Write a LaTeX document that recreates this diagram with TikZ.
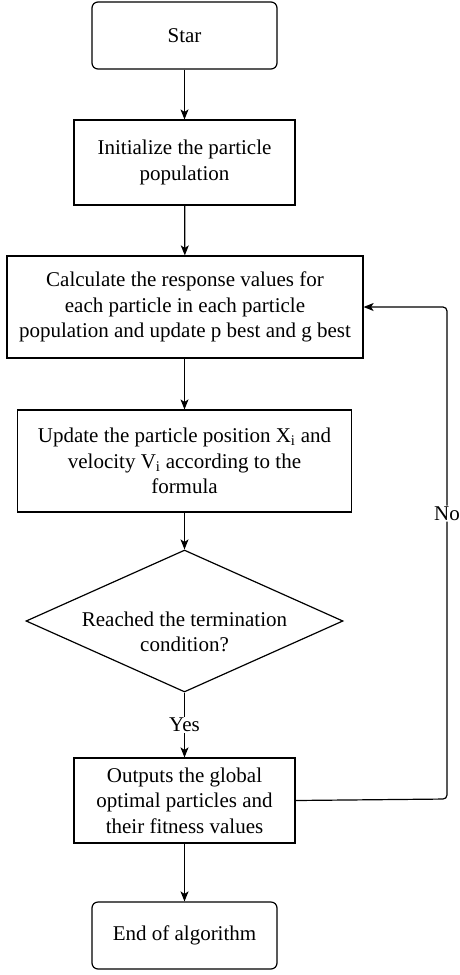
\documentclass[tikz,border=0pt]{standalone}
\usepackage{fontspec}
\setmainfont{Liberation Serif}
\usetikzlibrary{arrows.meta,shapes.geometric}
\begin{document}
\begin{tikzpicture}[x=1pt,y=-1pt,
  every node/.style={font=\fontsize{21}{25.5}\selectfont},
  base/.style={draw, line width=1.2pt, inner sep=0pt, align=center},
  procbox/.style={base, rectangle},
  termbox/.style={base, rectangle, rounded corners=6pt},
  decbox/.style={base, diamond},
  conn/.style={line width=1.2pt, -{Stealth[length=10pt,width=8pt,inset=2.5pt]}},
  lbl/.style={fill=white, inner sep=1pt}
]
\useasboundingbox (0,0) rectangle (459,975);
\node[termbox, minimum width=185pt, minimum height=67pt] (start) at (184.5,35.5) {Star};
\node[procbox, minimum width=221pt, minimum height=85pt] (init) at (184.5,162.5) {Initialize the particle\\population};
\node[procbox, minimum width=356pt, minimum height=102pt] (calc) at (185,307) {Calculate the response values for\\each particle in each particle\\population and update p best and g best};
\node[procbox, minimum width=334pt, minimum height=102pt] (upd) at (184.5,461) {Update the particle position X\textsubscript{i} and\\velocity V\textsubscript{i} according to the\\formula};
\node[decbox, minimum width=317pt, minimum height=142pt] (dec) at (184.5,621) {};
\node[align=center, inner sep=0pt] (dectext) at (184.5,632) {Reached the termination\\condition?};
\node[procbox, minimum width=221pt, minimum height=85pt] (out) at (184.5,800.5) {Outputs the global\\optimal particles and\\their fitness values};
\node[termbox, minimum width=185pt, minimum height=67pt] (end) at (184.5,935.5) {End of algorithm};
\coordinate (c1) at (447,799);
\coordinate (c2) at (447,307);
\draw[conn] (start) -- (init);
\draw[conn] (init) -- (calc);
\draw[conn] (calc.south -| upd.north) -- (upd);
\draw[conn] (upd) -- (dec.north);
\draw[conn] (dec.south) -- node[lbl] (yes) {Yes} (out.north);
\draw[conn] (out) -- (end);
\draw[conn, rounded corners=4pt] (out.east) -- (c1) -- node[lbl, pos=0.58] (no) {No} (c2) -- (calc.east);
\end{tikzpicture}
\end{document}
